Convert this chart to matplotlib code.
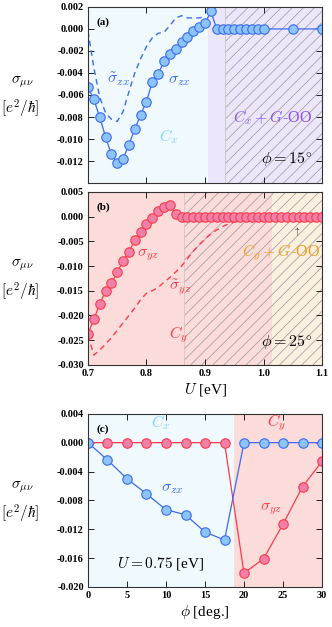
import numpy as np
import matplotlib
matplotlib.use("Agg")
import matplotlib.pyplot as plt

plt.rcParams['font.family'] = ['Liberation Serif', 'DejaVu Serif']
plt.rcParams['mathtext.fontset'] = 'cm'
plt.rcParams['hatch.color'] = '#9a9a9a'
plt.rcParams['hatch.linewidth'] = 0.5

# panel (a): phi = 15 deg
u_a = [0.70, 0.71, 0.72, 0.73, 0.74, 0.75, 0.76, 0.77, 0.78, 0.79, 0.80,
       0.81, 0.82, 0.83, 0.84, 0.85, 0.86, 0.87, 0.88, 0.89, 0.90, 0.91,
       0.92, 0.93, 0.94, 0.95, 0.96, 0.97, 0.98, 0.99, 1.00, 1.05, 1.10]
szx_a = [-0.0053, -0.0064, -0.0080, -0.0098, -0.0114, -0.0122, -0.0118,
         -0.0105, -0.0091, -0.0078, -0.0066, -0.0048, -0.0041, -0.0029,
         -0.0023, -0.0018, -0.0012, -0.0007, -0.0002, 0.0002, 0.0005, 0.0016,
         0.0, 0.0, 0.0, 0.0, 0.0, 0.0, 0.0, 0.0, 0.0, 0.0, 0.0]
u_a_t = [0.70, 0.71, 0.72, 0.73, 0.74, 0.75, 0.76, 0.77, 0.78, 0.79, 0.80,
         0.81, 0.82, 0.83, 0.84, 0.85, 0.86, 0.87, 0.88, 0.89, 0.90]
szx_a_t = [-0.0002, -0.0035, -0.0062, -0.0076, -0.0082, -0.0084, -0.0075,
           -0.0057, -0.0040, -0.0027, -0.0016, -0.0008, -0.0004, -0.0003,
           0.0003, 0.0010, 0.0012, 0.0010, 0.0010, 0.0010, 0.0011]

# panel (b): phi = 25 deg
u_b = [0.70, 0.71, 0.72, 0.73, 0.74, 0.75, 0.76, 0.77, 0.78, 0.79, 0.80,
       0.81, 0.82, 0.83, 0.84, 0.85, 0.86, 0.87, 0.88, 0.89, 0.90, 0.91,
       0.92, 0.93, 0.94, 0.95, 0.96, 0.97, 0.98, 0.99, 1.00, 1.01, 1.02,
       1.03, 1.04, 1.05, 1.06, 1.07, 1.08, 1.09, 1.10]
syz_b = [-0.0237, -0.0208, -0.0177, -0.0151, -0.0134, -0.0113, -0.0089,
         -0.0072, -0.0047, -0.0032, -0.0015, -0.0003, 0.0011, 0.0019, 0.0024,
         0.0005, 0.0, 0.0, 0.0, 0.0, 0.0, 0.0, 0.0, 0.0, 0.0, 0.0, 0.0, 0.0,
         0.0, 0.0, 0.0, 0.0, 0.0, 0.0, 0.0, 0.0, 0.0, 0.0, 0.0, 0.0, 0.0]
u_b_t = [0.70, 0.71, 0.72, 0.73, 0.74, 0.75, 0.76, 0.77, 0.78, 0.79, 0.80,
         0.81, 0.82, 0.83, 0.84, 0.85, 0.86, 0.87, 0.88, 0.89, 0.90, 0.91,
         0.92, 0.93, 0.94, 0.95, 0.96, 0.97, 0.98]
syz_b_t = [-0.0240, -0.0280, -0.0270, -0.0258, -0.0245, -0.0230, -0.0215,
           -0.0200, -0.0185, -0.0168, -0.0155, -0.0150, -0.0143, -0.0133,
           -0.0123, -0.0112, -0.0100, -0.0085, -0.0070, -0.0057, -0.0045,
           -0.0035, -0.0027, -0.0020, -0.0015, -0.0011, -0.0008, -0.0005,
           -0.0002]

# panel (c): U = 0.75 eV
phi = [0, 2.5, 5, 7.5, 10, 12.5, 15, 17.5, 20, 22.5, 25, 27.5, 30]
szx_c = [0.0, -0.0024, -0.0050, -0.0071, -0.0093, -0.0100, -0.0124, -0.0135,
         0.0, 0.0, 0.0, 0.0, 0.0]
syz_c = [0.0, 0.0, 0.0, 0.0, 0.0, 0.0, 0.0, 0.0, -0.0181, -0.0161, -0.0113,
         -0.0061, -0.0026]

blue = '#3b6cf0'
blue_face = '#8cc4fa'
red = '#ff3a4a'
red_face = '#f080a8'
bg_blue = '#eff9fe'
bg_purple = '#ece6fb'
bg_pink = '#fbdcda'
bg_beige = '#fbefdf'

fig = plt.figure(figsize=(3.32, 6.27), dpi=100)
L, W = 0.265, 0.705
ax_a = fig.add_axes([L, 0.708, W, 0.281])
ax_b = fig.add_axes([L, 0.418, W, 0.276])
ax_c = fig.add_axes([L, 0.064, W, 0.276])

mk = dict(marker='o', markersize=6.8, markeredgewidth=0.8, linewidth=0.9)
fs = 11.5


def style(ax):
    ax.tick_params(direction='in', top=True, right=True, length=4, width=0.6,
                   labelsize=7.5, pad=3)
    for lab in ax.get_yticklabels() + ax.get_xticklabels():
        lab.set_fontweight('bold')
    for s in ax.spines.values():
        s.set_linewidth(0.8)
        s.set_color('#333333')


def fmt(vals):
    return ['%.3f' % v if abs(v) > 1e-9 else '0.000' for v in vals]


# (a)
ax = ax_a
ax.axvspan(0.7, 0.905, color=bg_blue, lw=0, zorder=0)
ax.axvspan(0.905, 1.1, color=bg_purple, lw=0, zorder=0)
ax.axvspan(0.934, 1.1, facecolor='none', edgecolor='#999999', hatch='///', lw=0, zorder=0.5)
ax.axvline(0.934, color='#c4c4c4', lw=0.6, zorder=0.6)
ax.plot(u_a_t, szx_a_t, '--', color=blue, lw=1.0, dashes=(4, 3))
ax.plot(u_a, szx_a, color=blue, markerfacecolor=blue_face, markeredgecolor=blue, **mk)
ax.set_xlim(0.7, 1.1)
ax.set_ylim(-0.014, 0.002)
yt = np.arange(-0.012, 0.0021, 0.002)
ax.set_yticks(yt)
ax.set_yticklabels(fmt(yt))
ax.set_xticks([0.7, 0.8, 0.9, 1.0, 1.1])
ax.set_xticklabels([])
style(ax)
ax.text(0.035, 0.94, '(a)', transform=ax.transAxes, fontsize=8, fontweight='bold', va='top')
ax.text(0.752, -0.0046, r'$\tilde{\sigma}_{zx}$', color=blue, fontsize=fs, ha='center', va='center')
ax.text(0.855, -0.0046, r'$\sigma_{zx}$', color=blue, fontsize=fs, ha='center', va='center')
ax.text(0.838, -0.0098, r'$C_x$', color='#80d4f8', fontsize=fs, ha='center', va='center')
ax.text(1.015, -0.0081, r'$C_x + G$-OO', color='#8a55f0', fontsize=fs, ha='center', va='center')
ax.text(1.04, -0.0119, r'$\phi = 15^{\circ}$', color='black', fontsize=fs, ha='center', va='center')

# (b)
ax = ax_b
ax.axvspan(0.7, 1.015, color=bg_pink, lw=0, zorder=0)
ax.axvspan(1.015, 1.1, color=bg_beige, lw=0, zorder=0)
ax.axvspan(0.864, 1.1, facecolor='none', edgecolor='#999999', hatch='///', lw=0, zorder=0.5)
ax.axvline(0.864, color='#dcc4c4', lw=0.6, zorder=0.6)
ax.plot(u_b_t, syz_b_t, '--', color=red, lw=1.0, dashes=(4, 3))
ax.plot(u_b, syz_b, color=red, markerfacecolor=red_face, markeredgecolor=red, **mk)
ax.set_xlim(0.7, 1.1)
ax.set_ylim(-0.030, 0.005)
yt = np.arange(-0.030, 0.0051, 0.005)
ax.set_yticks(yt)
ax.set_yticklabels(fmt(yt))
ax.set_xticks([0.7, 0.8, 0.9, 1.0, 1.1])
ax.set_xticklabels(['0.7', '0.8', '0.9', '1.0', '1.1'])
style(ax)
ax.set_xlabel(r'$U$ [eV]', fontsize=11, labelpad=2)
ax.text(0.035, 0.94, '(b)', transform=ax.transAxes, fontsize=8, fontweight='bold', va='top')
ax.text(0.803, -0.0077, r'$\sigma_{yz}$', color=red, fontsize=fs, ha='center', va='center')
ax.text(0.857, -0.0143, r'$\tilde{\sigma}_{yz}$', color=red, fontsize=fs, ha='center', va='center')
ax.text(0.855, -0.0238, r'$C_y$', color=red, fontsize=fs, ha='center', va='center')
ax.text(1.03, -0.0074, r'$C_y + G$-OO', color='#f0a020', fontsize=fs, ha='center', va='center')
ax.text(1.058, -0.0044, r'$\uparrow$', color='black', fontsize=6.5, ha='center', va='bottom')
ax.text(1.04, -0.0255, r'$\phi = 25^{\circ}$', color='black', fontsize=fs, ha='center', va='center')

# (c)
ax = ax_c
ax.axvspan(0, 18.7, color=bg_blue, lw=0, zorder=0)
ax.axvspan(18.7, 30, color=bg_pink, lw=0, zorder=0)
ax.plot(phi, syz_c, color=red, markerfacecolor=red_face, markeredgecolor=red, **mk)
ax.plot(phi, szx_c, color=blue, markerfacecolor=blue_face, markeredgecolor=blue, **mk)
ax.set_xlim(0, 30)
ax.set_ylim(-0.020, 0.004)
yt = np.arange(-0.020, 0.0041, 0.004)
ax.set_yticks(yt)
ax.set_yticklabels(fmt(yt))
ax.set_xticks([0, 5, 10, 15, 20, 25, 30])
style(ax)
ax.set_xlabel(r'$\phi$ [deg.]', fontsize=11, labelpad=2)
ax.text(0.035, 0.94, '(c)', transform=ax.transAxes, fontsize=8, fontweight='bold', va='top')
ax.text(9.3, 0.0028, r'$C_x$', color='#80d4f8', fontsize=fs, ha='center', va='center')
ax.text(24.2, 0.0028, r'$C_y$', color=red, fontsize=fs, ha='center', va='center')
ax.text(10.8, -0.0063, r'$\sigma_{zx}$', color=blue, fontsize=fs, ha='center', va='center')
ax.text(23.4, -0.0092, r'$\sigma_{yz}$', color=red, fontsize=fs, ha='center', va='center')
ax.text(9.3, -0.0167, r'$U = 0.75$ [eV]', color='black', fontsize=11, ha='center', va='center')

# y labels
for a in (ax_a, ax_b, ax_c):
    pos = a.get_position()
    yc = pos.y0 + pos.height * 0.5
    fig.text(0.068, yc + 0.021, r'$\sigma_{\mu\nu}$', fontsize=11, ha='center', va='center')
    fig.text(0.062, yc - 0.022, r'$[e^2/\hbar]$', fontsize=11, ha='center', va='center')

fig.savefig('out.png', dpi=100)
